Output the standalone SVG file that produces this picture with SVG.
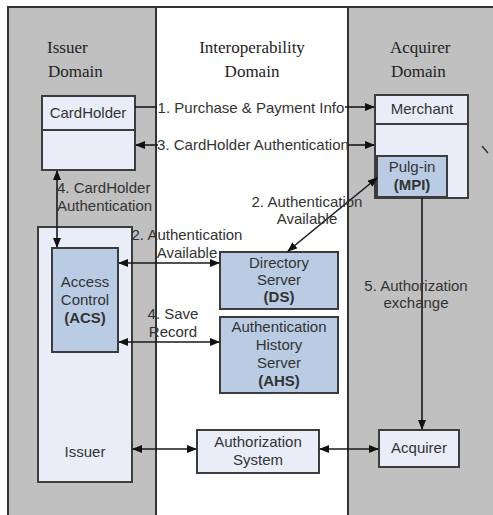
<svg xmlns="http://www.w3.org/2000/svg" width="493" height="515" viewBox="0 0 493 515">
<style>
.col-gray{fill:#c0c0c0}
.divider{stroke:#333;stroke-width:2;fill:none}
.title{font-family:"Liberation Serif","Times New Roman",serif;font-size:17px;fill:#222}
.lbl{font-family:"Liberation Sans",Arial,sans-serif;font-size:15px;fill:#333}
.b{font-weight:bold}
.c{text-anchor:middle}
.light{fill:#e9edf8;stroke:#3c3c3c;stroke-width:2}
.blue{fill:#b9cce4;stroke:#3c3c3c;stroke-width:2}
.conn{stroke:#1a1a1a;stroke-width:1.6;fill:none}
</style>
<defs>
<marker id="ah" markerUnits="userSpaceOnUse" markerWidth="10" markerHeight="8" refX="9" refY="4" orient="auto-start-reverse" viewBox="0 0 10 8">
<path d="M0,0 L10,4 L0,8 Z" fill="#111"/>
</marker>
</defs>
<rect x="0" y="0" width="493" height="515" fill="#fff"/>
<g id="domains">
<rect class="col-gray" x="8" y="7" width="148" height="508"/>
<rect x="156" y="7" width="192" height="508" fill="#fff"/>
<rect class="col-gray" x="348" y="7" width="145" height="508"/>
<path class="divider" d="M8,515 V7 H493 M156,7 V515 M348,7 V515"/>
<text class="title" x="47" y="53">Issuer</text>
<text class="title" x="48" y="77">Domain</text>
<text class="title c" x="252" y="53">Interoperability</text>
<text class="title c" x="252" y="77">Domain</text>
<text class="title" x="390" y="53">Acquirer</text>
<text class="title" x="391" y="77">Domain</text>
</g>
<g id="cardholder">
<rect class="light" x="42" y="96" width="93" height="74"/>
<line x1="42" y1="130" x2="135" y2="130" stroke="#3c3c3c" stroke-width="2"/>
<text class="lbl c" x="88" y="118">CardHolder</text>
</g>
<g id="merchant">
<rect class="light" x="375" y="95" width="93" height="103"/>
<line x1="375" y1="124" x2="468" y2="124" stroke="#3c3c3c" stroke-width="2"/>
<text class="lbl c" x="422" y="114">Merchant</text>
</g>
<g id="mpi">
<rect class="blue" x="377" y="156" width="70" height="41"/>
<text class="lbl c" x="412" y="172">Pulg-in</text>
<text class="lbl c b" x="412" y="190">(MPI)</text>
</g>
<g id="issuer">
<rect class="light" x="38" y="227" width="94" height="255"/>
<text class="lbl c" x="85" y="457">Issuer</text>
</g>
<g id="acs">
<rect class="blue" x="52" y="248" width="66" height="104"/>
<text class="lbl c" x="85" y="287">Access</text>
<text class="lbl c" x="85" y="305">Control</text>
<text class="lbl c b" x="85" y="323">(ACS)</text>
</g>
<g id="ds">
<rect class="blue" x="220" y="252" width="118" height="57"/>
<text class="lbl c" x="279" y="268">Directory</text>
<text class="lbl c" x="279" y="285">Server</text>
<text class="lbl c b" x="279" y="302">(DS)</text>
</g>
<g id="ahs">
<rect class="blue" x="220" y="317" width="118" height="76"/>
<text class="lbl c" x="279" y="332">Authentication</text>
<text class="lbl c" x="279" y="350">History</text>
<text class="lbl c" x="279" y="368">Server</text>
<text class="lbl c b" x="279" y="386">(AHS)</text>
</g>
<g id="authsystem">
<rect class="light" x="197" y="430" width="122" height="43"/>
<text class="lbl c" x="258" y="447">Authorization</text>
<text class="lbl c" x="258" y="465">System</text>
</g>
<g id="acquirer">
<rect class="light" x="379" y="430" width="80" height="37"/>
<text class="lbl c" x="419" y="453">Acquirer</text>
</g>
<g id="connectors">
<line class="conn" x1="135" y1="107" x2="157" y2="107"/>
<line class="conn" x1="345" y1="107" x2="374" y2="107" marker-end="url(#ah)"/>
<text class="lbl c" x="251" y="113">1. Purchase &amp; Payment Info</text>
<line class="conn" x1="136" y1="145" x2="158" y2="145" marker-start="url(#ah)"/>
<line class="conn" x1="348" y1="145" x2="374" y2="145" marker-end="url(#ah)"/>
<text class="lbl c" x="253" y="150">3. CardHolder Authentication</text>
<line class="conn" x1="57" y1="171" x2="57" y2="247" marker-start="url(#ah)" marker-end="url(#ah)"/>
<text class="lbl" x="57" y="193">4. CardHolder</text>
<text class="lbl" x="57" y="211">Authentication</text>
<line class="conn" x1="119" y1="263" x2="219" y2="263" marker-start="url(#ah)" marker-end="url(#ah)"/>
<text class="lbl c" x="187" y="240">2. Authentication</text>
<text class="lbl c" x="187" y="258">Available</text>
<line class="conn" x1="288" y1="251" x2="377" y2="178" marker-start="url(#ah)" marker-end="url(#ah)"/>
<text class="lbl c" x="307" y="207">2. Authentication</text>
<text class="lbl c" x="307" y="224">Available</text>
<line class="conn" x1="119" y1="342" x2="219" y2="342" marker-start="url(#ah)" marker-end="url(#ah)"/>
<text class="lbl c" x="173" y="319">4. Save</text>
<text class="lbl c" x="173" y="337">Record</text>
<line class="conn" x1="422" y1="198" x2="422" y2="429" marker-end="url(#ah)"/>
<text class="lbl c" x="416" y="291">5. Authorization</text>
<text class="lbl c" x="416" y="308">exchange</text>
<line class="conn" x1="133" y1="449" x2="196" y2="449" marker-start="url(#ah)" marker-end="url(#ah)"/>
<line class="conn" x1="320" y1="449" x2="378" y2="449" marker-start="url(#ah)" marker-end="url(#ah)"/>
</g>
<line x1="482" y1="146" x2="488" y2="153" stroke="#333" stroke-width="1.5"/>
</svg>
